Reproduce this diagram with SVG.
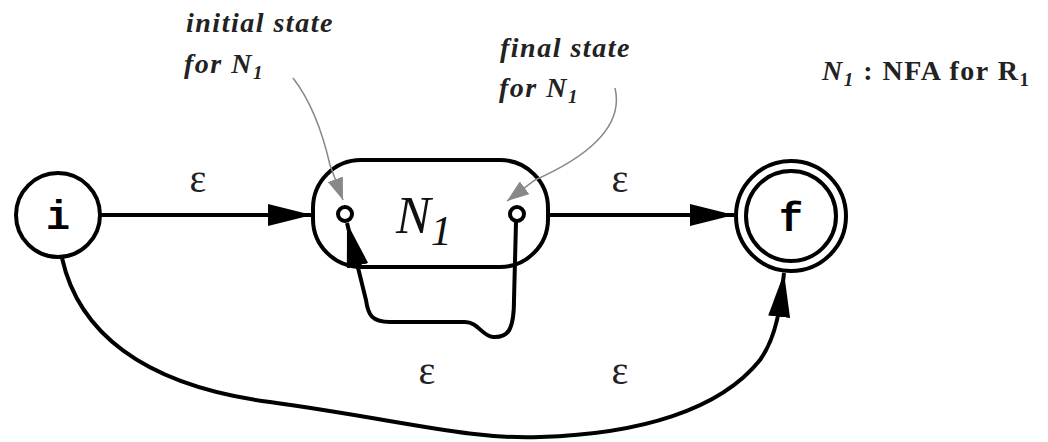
<svg xmlns="http://www.w3.org/2000/svg" width="1048" height="442" viewBox="0 0 1048 442">
<style>
.st{fill:#fff;stroke:#000;stroke-width:4}
.ln{fill:none;stroke:#000;stroke-width:4}
.gr{fill:none;stroke:#888;stroke-width:1.5}
.eps{font-family:"Liberation Serif",serif;font-size:40px;fill:#222;text-anchor:middle}
.ann{font-family:"Liberation Serif",serif;font-size:28px;font-style:italic;font-weight:bold;fill:#222;letter-spacing:1.5px}
.lbl{font-family:"Liberation Mono",monospace;font-size:40px;font-weight:bold;text-anchor:middle}
.sm{fill:#fff;stroke:#000;stroke-width:4}
</style>
<defs>
<marker id="ahb" markerWidth="44" markerHeight="22" refX="44" refY="11" orient="auto" markerUnits="userSpaceOnUse"><path d="M0,0 L44,11 L0,22 z" fill="#000"/></marker>
<marker id="ahg" markerWidth="22" markerHeight="16" refX="22" refY="8" orient="auto" markerUnits="userSpaceOnUse"><path d="M0,0 L22,8 L0,16 z" fill="#888"/></marker>
</defs>
<g id="node-i">
<circle class="st" cx="58" cy="215" r="42"/>
<text class="lbl" x="58" y="229">i</text>
</g>
<g id="node-N1">
<rect class="st" x="313" y="160" width="235" height="107" rx="48"/>
<circle class="sm" cx="345" cy="214" r="7"/>
<circle class="sm" cx="517" cy="214" r="7"/>
<text x="396" y="233" font-family="Liberation Serif,serif" font-size="52" font-style="italic" fill="#111">N<tspan font-size="42" dy="12">1</tspan></text>
</g>
<g id="node-f">
<circle class="st" cx="791" cy="216" r="55"/>
<circle class="ln" cx="791" cy="216" r="45" stroke-width="3"/>
<text class="lbl" x="791" y="231">f</text>
</g>
<g id="connectors">
<path class="ln" d="M100,215 L312,215" marker-end="url(#ahb)"/>
<path class="ln" d="M548,215 L734,215" marker-end="url(#ahb)"/>
<path class="ln" d="M516,222 L514,300 C514,330 508,338 493,337 C482,336 478,322 465,322 L390,322 C372,322 368,315 366,300 L347,223" marker-end="url(#ahb)"/>
<path class="ln" d="M62,258 C78,330 140,385 270,402 C400,420 470,440 540,437 C640,434 720,410 760,360 C778,335 781,300 784,273" marker-end="url(#ahb)"/>
<path class="gr" d="M293,78 C310,100 322,130 330,165 L343,200" marker-end="url(#ahg)"/>
<path class="gr" d="M615,88 C625,130 580,160 535,180 L507,201" marker-end="url(#ahg)"/>
</g>
<g id="labels">
<text class="eps" x="198" y="192">ε</text>
<text class="eps" x="620" y="192">ε</text>
<text class="eps" x="427" y="384">ε</text>
<text class="eps" x="620" y="384">ε</text>
<text class="ann" x="186" y="32">initial state</text>
<text class="ann" x="184" y="73">for N<tspan font-size="19" dy="6">1</tspan></text>
<text class="ann" x="500" y="57">final state</text>
<text class="ann" x="499" y="97">for N<tspan font-size="19" dy="6">1</tspan></text>
<text x="822" y="80" font-family="Liberation Serif,serif" font-size="28" font-weight="bold" fill="#222" letter-spacing="1.5"><tspan font-style="italic">N<tspan font-size="19" dy="6">1</tspan></tspan><tspan dy="-6"> : NFA for R</tspan><tspan font-size="19" dy="6">1</tspan></text>
</g>
</svg>
